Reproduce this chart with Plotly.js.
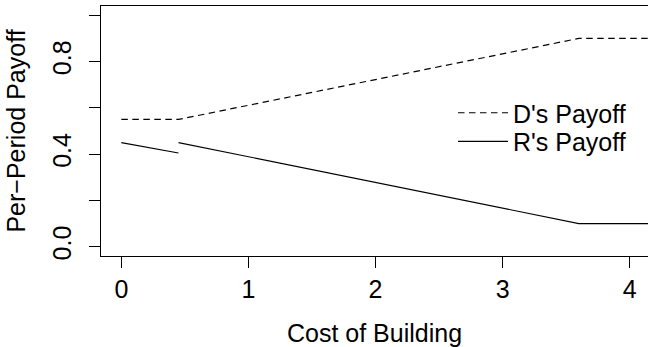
<!DOCTYPE html>
<html>
<head>
<meta charset="utf-8">
<script src="https://cdn.plot.ly/plotly-3.0.1.min.js"></script>
<style>
html,body{margin:0;padding:0;overflow:hidden;background:#fff;}
#chart{width:648px;height:347px;}
</style>
</head>
<body>
<div id="chart"></div>
<script>
// Data
const dX = [0, 0.45, 3.6, 4.2];
const dY = [0.55, 0.55, 0.9, 0.9];
const rX = [0, 0.45, 0.45, 0.45, 3.6, 4.2];
const rY = [0.45, 0.405, null, 0.45, 0.1, 0.1];
const seriesNames = ["D's Payoff", "R's Payoff"];
const xTickVals = [0, 1, 2, 3, 4];
const xTickText = ["0", "1", "2", "3", "4"];
const yTickVals = [0, 0.2, 0.4, 0.6, 0.8, 1.0];
const yTickText = ["0.0", "", "0.4", "", "0.8", ""];

const FONT = "Liberation Sans, Arial, Helvetica, sans-serif";

const traces = [
  {x: dX, y: dY, type: 'scatter', mode: 'lines', name: seriesNames[0],
   line: {color: '#000', width: 1.2, dash: '6.5px,4.5px'}, legend: 'legend', connectgaps: false},
  {x: rX, y: rY, type: 'scatter', mode: 'lines', name: seriesNames[1],
   line: {color: '#000', width: 1.2}, legend: 'legend2', connectgaps: false}
];

const legendCommon = {
  xanchor: 'left', yanchor: 'middle', bgcolor: 'rgba(0,0,0,0)', borderwidth: 0,
  font: {family: FONT, size: 25, color: '#000'}, itemwidth: 50
};

const layout = {
  width: 648, height: 347,
  margin: {l: 101, r: 0, t: 6, b: 91},
  paper_bgcolor: '#fff', plot_bgcolor: '#fff',
  font: {family: FONT, size: 25, color: '#000'},
  showlegend: true,
  legend: Object.assign({}, legendCommon, {x: 0.6435, y: 0.572}),
  legend2: Object.assign({}, legendCommon, {x: 0.6435, y: 0.4576}),
  xaxis: {
    range: [-0.16, 4.144], tickvals: xTickVals, ticktext: xTickText,
    ticks: 'outside', ticklen: 11, tickwidth: 1, tickcolor: '#000',
    showline: true, linecolor: '#000', linewidth: 1, mirror: true,
    showgrid: false, zeroline: false,
    tickfont: {family: FONT, size: 25, color: '#000'},
    title: {text: 'Cost of Building', font: {family: FONT, size: 25, color: '#000'}, standoff: 25},
    automargin: false
  },
  yaxis: {
    range: [-0.04, 1.04], tickvals: yTickVals, ticktext: yTickText,
    ticks: 'outside', ticklen: 11, tickwidth: 1, tickcolor: '#000', tickangle: -90,
    ticklabelstandoff: 8,
    showline: true, linecolor: '#000', linewidth: 1, mirror: false,
    showgrid: false, zeroline: false,
    tickfont: {family: FONT, size: 25, color: '#000'},
    title: {text: 'Per\u2212Period Payoff', font: {family: FONT, size: 25, color: '#000'}, standoff: 15},
    automargin: false
  }
};

Plotly.newPlot('chart', traces, layout, {staticPlot: true, displayModeBar: false});
</script>
</body>
</html>
